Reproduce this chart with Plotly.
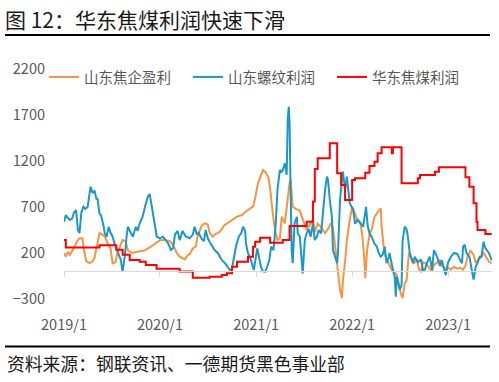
import plotly.graph_objects as go

# ---------------- data ----------------
orange_name = "山东焦企盈利"
orange_dates = ["2019-01-01","2019-01-08","2019-01-16","2019-01-23","2019-02-05","2019-02-20","2019-03-01","2019-03-12","2019-03-20","2019-03-27",
"2019-04-08","2019-04-20","2019-04-27","2019-05-05","2019-05-16","2019-05-27","2019-06-05","2019-06-16","2019-06-27","2019-07-05",
"2019-07-16","2019-07-23","2019-08-01","2019-08-12","2019-08-23","2019-09-01","2019-09-16","2019-10-01","2019-10-16","2019-11-05",
"2019-11-23","2019-12-12","2020-01-01","2020-01-20","2020-02-08","2020-02-20","2020-03-05","2020-03-16","2020-03-27","2020-04-05",
"2020-04-16","2020-04-23","2020-05-05","2020-05-16","2020-05-23","2020-06-08","2020-06-20","2020-07-01","2020-07-08","2020-07-20",
"2020-07-27","2020-08-16","2020-09-01","2020-09-12","2020-10-01","2020-10-20","2020-11-08","2020-11-27","2020-12-20","2020-12-27",
"2021-01-08","2021-01-20","2021-01-27","2021-02-05","2021-02-16","2021-02-23","2021-03-01","2021-03-08","2021-03-16","2021-03-23",
"2021-04-01","2021-04-08","2021-04-20","2021-04-27","2021-05-08","2021-05-12","2021-05-20","2021-06-01","2021-06-16","2021-06-23",
"2021-07-01","2021-07-12","2021-07-23","2021-08-05","2021-08-12","2021-08-23","2021-09-05","2021-09-20","2021-10-01","2021-10-12",
"2021-10-20","2021-10-27","2021-11-05","2021-11-08","2021-11-16","2021-11-23","2021-11-27","2021-12-05","2021-12-12","2021-12-23",
"2022-01-01","2022-01-08","2022-01-20","2022-02-01","2022-02-08","2022-02-16","2022-02-20","2022-02-27","2022-03-08","2022-03-16",
"2022-03-27","2022-04-08","2022-04-20","2022-04-23","2022-05-01","2022-05-08","2022-05-20","2022-06-01","2022-06-08","2022-06-20",
"2022-06-27","2022-07-05","2022-07-12","2022-07-20","2022-07-27","2022-08-05","2022-08-12","2022-08-23","2022-09-05","2022-09-12",
"2022-09-20","2022-09-27","2022-10-08","2022-10-20","2022-11-01","2022-11-08","2022-11-20","2022-12-01","2022-12-08","2022-12-20",
"2023-01-01","2023-01-12","2023-01-23","2023-02-05","2023-02-16","2023-02-27","2023-03-08","2023-03-16","2023-03-27","2023-04-08",
"2023-04-16","2023-04-23","2023-05-05","2023-05-16","2023-05-27","2023-06-08","2023-06-16"]
orange_values = [200,160,214,180,240,330,360,360,200,110,
90,110,145,254,417,400,377,305,250,88,
100,200,269,341,330,230,200,210,215,230,
260,300,340,341,330,287,200,160,145,131,
178,190,250,269,377,500,523,510,420,377,
400,430,500,523,560,596,613,660,704,780,
960,1066,1102,1080,1029,900,700,560,420,341,
360,594,523,703,960,994,703,680,660,600,
540,450,500,560,430,520,480,414,460,523,
480,308,100,48,-200,-290,-93,100,341,560,
703,660,560,520,414,150,-72,232,400,450,
594,640,686,486,269,160,90,15,0,-40,
-130,-240,-290,-130,-100,200,160,90,120,20,
0,100,90,40,0,70,100,120,60,30,
40,20,50,30,40,20,60,160,230,180,
90,120,150,200,150,100,90]

blue_name = "山东螺纹利润"
blue_dates = ["2019-01-01","2019-01-08","2019-01-16","2019-01-23","2019-02-01","2019-02-08","2019-02-16","2019-02-23","2019-03-01","2019-03-08",
"2019-03-16","2019-03-23","2019-04-01","2019-04-08","2019-04-12","2019-04-20","2019-04-27","2019-05-05","2019-05-08","2019-05-16",
"2019-05-23","2019-06-01","2019-06-05","2019-06-12","2019-06-20","2019-06-27","2019-07-05","2019-07-12","2019-07-20","2019-07-27",
"2019-08-05","2019-08-12","2019-08-20","2019-08-27","2019-09-01","2019-09-12","2019-09-20","2019-10-01","2019-10-08","2019-10-16",
"2019-10-27","2019-11-05","2019-11-16","2019-11-23","2019-12-01","2019-12-12","2019-12-20","2020-01-01","2020-01-12","2020-01-23",
"2020-02-01","2020-02-12","2020-02-20","2020-02-27","2020-03-08","2020-03-16","2020-03-27","2020-04-08","2020-04-23","2020-05-05",
"2020-05-12","2020-05-20","2020-05-27","2020-06-08","2020-06-16","2020-06-23","2020-07-01","2020-07-08","2020-07-20","2020-07-27",
"2020-08-08","2020-08-16","2020-08-23","2020-09-05","2020-09-16","2020-09-23","2020-10-01","2020-10-08","2020-10-16","2020-10-27",
"2020-11-05","2020-11-12","2020-11-20","2020-11-23","2020-12-01","2020-12-08","2020-12-16","2020-12-23","2021-01-05","2021-01-12",
"2021-01-20","2021-01-27","2021-02-05","2021-02-12","2021-02-20","2021-02-27","2021-03-08","2021-03-16","2021-03-20","2021-03-23",
"2021-04-01","2021-04-08","2021-04-12","2021-04-20","2021-04-27","2021-05-01","2021-05-05","2021-05-08","2021-05-12","2021-05-16",
"2021-05-20","2021-05-27","2021-06-05","2021-06-08","2021-06-16","2021-06-23","2021-06-27","2021-07-05","2021-07-12","2021-07-20",
"2021-07-27","2021-08-05","2021-08-12","2021-08-20","2021-08-27","2021-09-05","2021-09-08","2021-09-12","2021-09-20","2021-09-27",
"2021-10-01","2021-10-08","2021-10-16","2021-10-20","2021-10-27","2021-11-05","2021-11-08","2021-11-16","2021-11-23","2021-11-27",
"2021-12-05","2021-12-12","2021-12-16","2021-12-23","2022-01-05","2022-01-12","2022-01-23","2022-02-01","2022-02-12","2022-02-23",
"2022-03-01","2022-03-08","2022-03-16","2022-03-27","2022-04-05","2022-04-12","2022-04-20","2022-04-27","2022-05-05","2022-05-12",
"2022-05-20","2022-05-23","2022-06-01","2022-06-08","2022-06-12","2022-06-16","2022-06-20","2022-06-27","2022-07-01","2022-07-08",
"2022-07-12","2022-07-20","2022-07-27","2022-08-01","2022-08-08","2022-08-20","2022-08-27","2022-09-08","2022-09-20","2022-09-27",
"2022-10-05","2022-10-12","2022-10-23","2022-11-01","2022-11-08","2022-11-20","2022-12-01","2022-12-08","2022-12-16","2022-12-23",
"2023-01-01","2023-01-12","2023-01-23","2023-02-05","2023-02-16","2023-02-23","2023-02-27","2023-03-05","2023-03-12","2023-03-23",
"2023-04-01","2023-04-08","2023-04-16","2023-04-23","2023-05-01","2023-05-08","2023-05-16","2023-05-23","2023-06-05","2023-06-16"]
blue_values = [540,613,580,560,575,640,667,450,417,640,
703,680,700,885,921,849,880,780,800,631,
600,486,414,377,486,420,377,305,250,200,
124,-3,160,377,486,420,377,486,440,523,
594,703,812,841,700,520,377,360,377,341,
305,232,254,400,440,340,440,380,360,400,
486,400,420,350,330,450,360,320,270,232,
200,160,124,88,51,15,30,160,270,380,
414,486,440,305,197,160,90,15,251,150,
40,0,-3,50,124,269,232,500,703,885,
1102,1084,1100,1175,1050,1650,1790,1612,885,232,
90,523,594,414,377,150,-21,341,414,460,
377,523,341,377,450,414,523,650,885,1029,
1000,776,594,232,160,90,197,776,994,1084,
885,1029,921,740,667,520,560,520,486,703,
500,414,377,300,270,200,160,180,269,90,
150,200,50,-20,-57,-275,-57,-150,-200,-150,
341,486,460,377,200,90,160,100,130,15,
20,90,160,15,232,160,60,120,15,-40,
100,160,200,190,120,90,270,290,200,160,
15,-90,50,90,160,160,323,250,200,120]

red_name = "华东焦煤利润"
red_dates = ["2019-01-01","2019-01-08","2019-05-16","2019-07-19","2019-08-12","2019-09-08","2019-10-16","2019-11-08","2019-12-19","2020-03-16",
"2020-05-05","2020-07-08","2020-08-23","2020-09-12","2020-10-01","2020-10-20","2020-12-01","2020-12-20","2020-12-28","2021-01-16",
"2021-02-23","2021-04-12","2021-05-08","2021-07-12","2021-08-05","2021-08-12","2021-08-23","2021-10-08","2021-11-05","2021-11-20",
"2021-12-05","2022-01-01","2022-01-12","2022-02-20","2022-03-08","2022-03-27","2022-04-08","2022-04-23","2022-06-01","2022-06-05",
"2022-07-08","2022-09-08","2022-09-16","2022-11-12","2022-11-27","2023-03-08","2023-03-23","2023-04-08","2023-04-19","2023-04-23",
"2023-05-23","2023-06-16"]
red_values = [340,260,285,235,180,125,105,70,30,0,
-70,-57,-39,-21,51,106,160,269,323,366,
312,341,493,540,760,1113,1229,1392,1066,939,
776,994,1012,1073,1146,1193,1284,1349,1284,1349,
958,1012,1048,1084,1131,1023,921,740,540,450,
406,406]

y_ticks = [-300, 200, 700, 1200, 1700, 2200]
x_tick_dates = ["2019-01-01", "2020-01-01", "2021-01-01", "2022-01-01", "2023-01-01"]
x_tick_labels = ["2019/1", "2020/1", "2021/1", "2022/1", "2023/1"]

title_text = "图 12：华东焦煤利润快速下滑"
source_text = "资料来源：钢联资讯、一德期货黑色事业部"

# ---------------- figure ----------------
FONT = "Noto Sans CJK SC"
GRAY = "#595959"
x_range = ["2019-01-01", "2023-06-17"]
y_range = [-300, 2200]

fig = go.Figure()
fig.add_trace(go.Scatter(x=orange_dates, y=orange_values, name=orange_name, mode="lines",
                         line=dict(color="#F79440", width=2)))
fig.add_trace(go.Scatter(x=blue_dates, y=blue_values, name=blue_name, mode="lines",
                         line=dict(color="#1B98C6", width=2)))
fig.add_trace(go.Scatter(x=red_dates, y=red_values, name=red_name, mode="lines",
                         line=dict(color="#FF0000", width=2, shape="hv"), xaxis="x2"))

W, H = 499, 382
L, R, T, B = 64, 7, 69, 83
pw, ph = W - L - R, H - T - B

def px_x(p):
    return (p - L) / pw

def px_y(p):
    return (H - B - p) / ph

zero_pos = (0 - y_range[0]) / (y_range[1] - y_range[0])

fig.update_layout(
    width=W, height=H,
    margin=dict(l=L, r=R, t=T, b=B, autoexpand=False),
    plot_bgcolor="white", paper_bgcolor="white",
    font=dict(family=FONT, color=GRAY, size=14.5),
    showlegend=True,
    legend=dict(orientation="h", xref="container", yref="container",
                x=44 / W, y=1 - 77 / H, xanchor="left", yanchor="middle",
                entrywidth=99, entrywidthmode="pixels",
                font=dict(size=14.5, color=GRAY, family=FONT),
                bgcolor="rgba(0,0,0,0)"),
    title=dict(text=title_text, xref="container", yref="container",
               x=5 / W, y=1 - 21 / H, xanchor="left", yanchor="middle",
               font=dict(size=21, color="#1a1a1a", family=FONT)),
    xaxis=dict(type="date", range=x_range, showgrid=False, zeroline=False, showline=False,
               tickvals=x_tick_dates, ticktext=x_tick_labels, ticks="",
               ticklabelstandoff=15, tickfont=dict(size=14.5, color=GRAY)),
    xaxis2=dict(type="date", range=x_range, overlaying="x", anchor="free", position=zero_pos,
                side="bottom", showgrid=False, zeroline=False, showline=True,
                linecolor="#D9D9D9", linewidth=1, tickvals=x_tick_dates, ticks="outside",
                ticklen=5, tickcolor="#D9D9D9", showticklabels=False),
    yaxis=dict(range=y_range, tickvals=y_ticks, showgrid=False, zeroline=False, showline=False,
               ticks="", ticklabelstandoff=18, tickfont=dict(size=14.5, color=GRAY)),
    shapes=[
        dict(type="line", xref="paper", yref="paper", x0=px_x(5), x1=px_x(490),
             y0=px_y(35), y1=px_y(35), line=dict(color="black", width=2)),
        dict(type="line", xref="paper", yref="paper", x0=px_x(5), x1=px_x(490),
             y0=px_y(346.5), y1=px_y(346.5), line=dict(color="black", width=2)),
    ],
    annotations=[
        dict(text=source_text, xref="paper", yref="paper", x=px_x(5), y=px_y(363),
             xanchor="left", yanchor="middle", showarrow=False,
             font=dict(size=17.8, color="#1a1a1a", family=FONT)),
    ],
)

fig.write_html("out.html", config={"displayModeBar": False},
               post_script="document.body.style.margin='0';document.body.style.padding='0';")
